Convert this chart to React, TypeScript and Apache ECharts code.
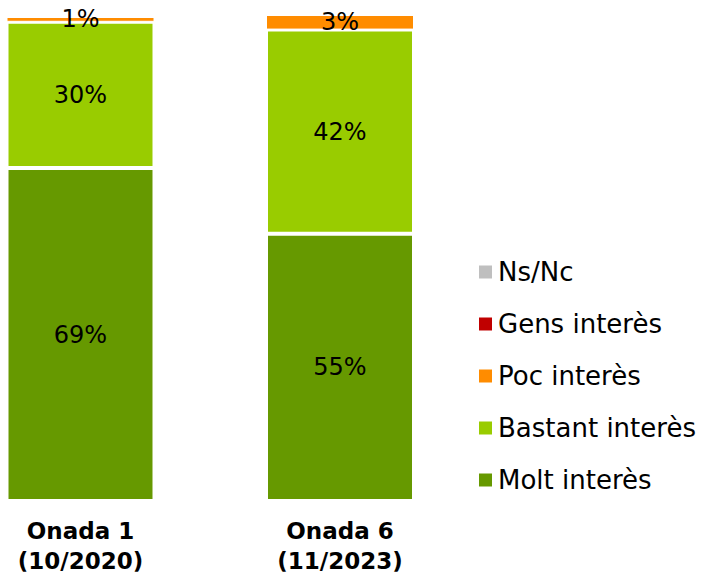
import React, { useEffect, useRef } from "react";
import * as echarts from "echarts";

const categories = ["Onada 1\n(10/2020)", "Onada 6\n(11/2023)"];
const seriesNames = ["Molt interès", "Bastant interès", "Poc interès", "Gens interès", "Ns/Nc"];
const molt = [68.5, 55];
const bastant = [30.1, 42];
const poc = [1, 3];
const gens = [0, 0];
const nsnc = [0, 0];
const colors = ["#669900", "#99CC00", "#FF8C00", "#C00000", "#BFBFBF"];

export default function App() {
  const ref = useRef<HTMLDivElement>(null);
  useEffect(() => {
    const chart = echarts.init(ref.current!, undefined, { renderer: "svg" });
    const values = [molt, bastant, poc, gens, nsnc];
    chart.setOption({
      animation: false,
      grid: { left: 80.5, right: 366, top: 15, bottom: 75, containLabel: false, outerBoundsMode: "none" },
      legend: {
        orient: "vertical",
        left: 472,
        top: 254,
        itemWidth: 15,
        itemHeight: 15,
        itemGap: 26,
        icon: "rect",
        data: [...seriesNames].reverse(),
        textStyle: {
          fontFamily: "DejaVu Sans",
          fontSize: 26,
          lineHeight: 26,
          color: "#000",
          padding: [0, 0, 0, 0],
        },
      },
      xAxis: {
        type: "category",
        data: categories,
        boundaryGap: false,
        axisLine: { show: false },
        axisTick: { show: false },
        axisLabel: {
          margin: 15,
          fontFamily: "DejaVu Sans",
          fontWeight: "bold",
          fontSize: 23,
          lineHeight: 30,
          color: "#000",
        },
      },
      yAxis: { type: "value", min: 0, max: 100, show: false },
      series: seriesNames.map((name, i) => ({
        name,
        type: "bar",
        stack: "total",
        barWidth: 148,
        data: values[i],
        itemStyle: { color: colors[i], borderColor: "#fff", borderWidth: i === 2 ? 1 : 2 },
        label: {
          show: true,
          position: "inside",
          fontFamily: "DejaVu Sans",
          fontSize: 24,
          color: "#000",
          formatter: (p: any) => (p.value > 0 ? Math.round(p.value) + "%" : ""),
        },
      })),
    });
    return () => chart.dispose();
  }, []);
  return <div ref={ref} style={{ width: 706, height: 576, position: "absolute", left: 0, top: 0 }} />;
}
